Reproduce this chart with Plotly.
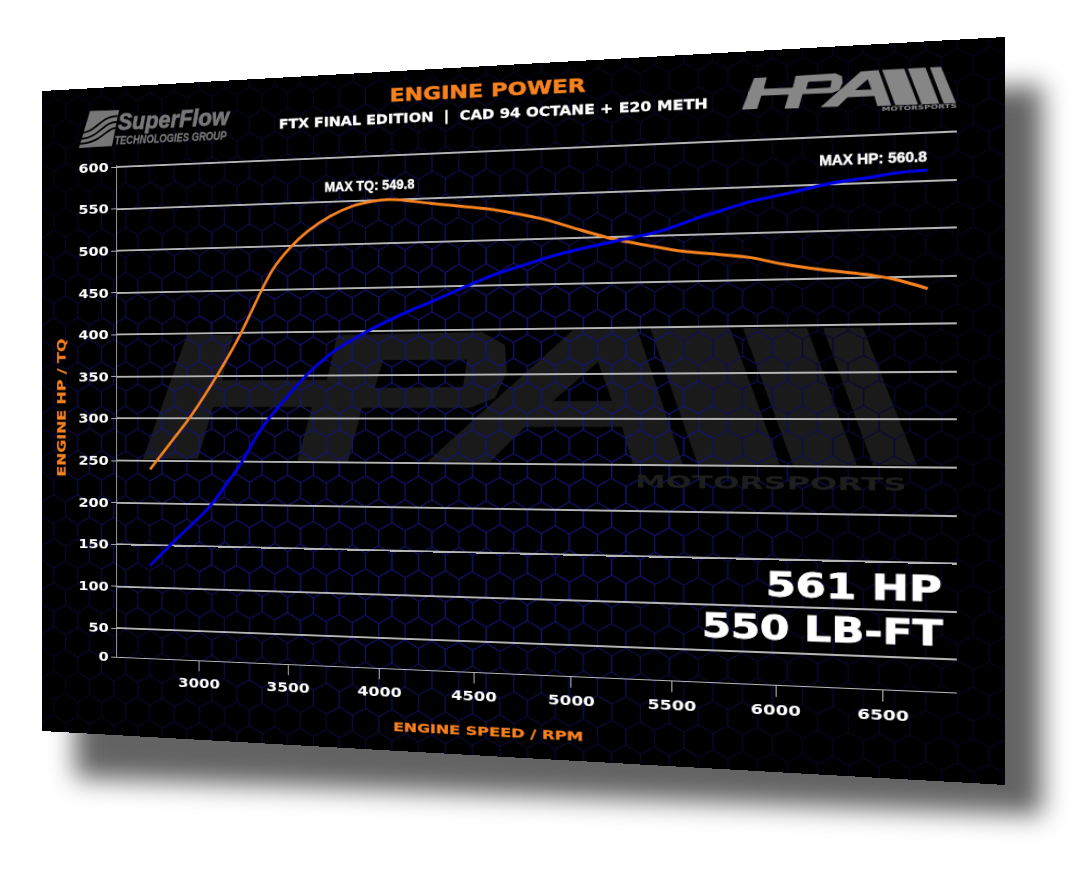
import json
import math
import numpy as np
import plotly.graph_objects as go

# ---------- data ----------
tq_rpm = [2718, 2834, 2949, 3103, 3233, 3357, 3418, 3512, 3606, 3733, 3858, 3965, 4050, 4110, 4270, 4444,
          4584, 4703, 4877, 5044, 5209, 5377, 5539, 5734, 5878, 6035, 6222, 6454, 6578, 6704]
tq_val = [240, 271, 302, 351, 398, 451, 474, 498, 516, 533, 544, 548.5, 549.8, 549, 544, 539,
          535, 530, 521, 509, 498, 490, 483, 478, 474, 466, 459, 452, 446, 437]
hp_rpm = [2718, 2880, 3052, 3244, 3329, 3401, 3606, 3749, 3933, 4057, 4174, 4270, 4480, 4584, 4703,
          4942, 5209, 5442, 5637, 5734, 5878, 6068, 6269, 6426, 6578, 6704]
hp_val = [126, 160, 195, 250, 281, 302, 351, 377, 400, 413, 424, 432, 451, 460, 468,
          483, 495, 505, 519, 525, 534, 542, 551, 555, 559.5, 560.8]
x_ticks = [3000, 3500, 4000, 4500, 5000, 5500, 6000, 6500]
y_ticks = [16, 50, 100, 150, 200, 250, 300, 350, 400, 450, 500, 550, 600]
y_labels = ["0", "50", "100", "150", "200", "250", "300", "350", "400", "450", "500", "550", "600"]

ORANGE = "#f5811f"
BLUE = "#0000e6"
WHITE = "#ffffff"

# ---------- flat sheet and its perspective ----------
W, H = 1000, 720
ML, MR, MT, MB = 90, 43, 87, 87
QUAD = [(42, 91), (1005, 37), (1005, 785), (42, 731)]
SRC = [(0, 0), (W, 0), (W, H), (0, H)]


def homography(src, dst):
    A, b = [], []
    for (u, v), (x, y) in zip(src, dst):
        A.append([u, v, 1, 0, 0, 0, -u * x, -v * x]); b.append(x)
        A.append([0, 0, 0, u, v, 1, -u * y, -v * y]); b.append(y)
    s = np.linalg.solve(np.array(A, float), np.array(b, float))
    return np.append(s, 1.0).reshape(3, 3)


HM = homography(SRC, QUAD)
HI = np.linalg.inv(HM)


def flat(x, y):
    p = HI @ np.array([x, y, 1.0])
    return p[0] / p[2], p[1] / p[2]


def paper_f(fx, fy):
    return (fx - ML) / (W - ML - MR), 1 - (fy - MT) / (H - MT - MB)


def paper(x, y):
    return paper_f(*flat(x, y))


def poly_path(points):
    s = ""
    for i, (x, y) in enumerate(points):
        px, py = paper(x, y)
        s += ("M" if i == 0 else "L") + f"{px:.5f},{py:.5f} "
    return s + "Z "


# ---------- logo outline, in reference pixels of the big watermark ----------
LOGO = [
    [(143, 459), (198, 459), (213, 407), (312, 407), (297, 462), (348, 462), (362, 408), (470, 408), (495, 398),
     (507, 372), (505, 345), (482, 332), (337, 335), (327, 380), (222, 380), (233, 335), (187, 335)],
    [(383, 360), (375, 388), (463, 387), (467, 360)],
    [(427, 462), (490, 462), (525, 427), (622, 427), (633, 465), (683, 465), (637, 328), (573, 330)],
    [(598, 362), (553, 401), (612, 401)],
    [(650, 328), (698, 465), (780, 465), (730, 328)],
    [(743, 328), (793, 465), (857, 465), (807, 328)],
    [(823, 328), (873, 465), (917, 465), (863, 328)],
]


def logo_path(x0, x1, yt0, yt1, yb0, yb1):
    s = ""
    for poly in LOGO:
        pts = []
        for x, y in poly:
            nx, ny = (x - 143) / 774, (y - 328) / 137
            yt = yt0 + nx * (yt1 - yt0)
            yb = yb0 + nx * (yb1 - yb0)
            pts.append((x0 + nx * (x1 - x0), yt + ny * (yb - yt)))
        s += poly_path(pts)
    return s


shapes = []
shapes.append(dict(type="path", xref="paper", yref="paper", layer="below",
                   path=logo_path(143, 917, 328, 328, 465, 465),
                   fillcolor="#1a1a1a", line=dict(width=0)))

# honeycomb backdrop, brighter in the middle of the sheet
R = 16.5
hex_w = R * math.sqrt(3)
groups = {0: "", 1: "", 2: "", 3: ""}
for row in range(-1, int(H / (1.5 * R)) + 2):
    for col in range(-1, int(W / hex_w) + 2):
        cx = col * hex_w + (hex_w / 2 if row % 2 else 0)
        cy = row * 1.5 * R
        d = math.hypot((cx - 430) / 520, (cy - 400) / 380)
        lvl = 0 if d < 0.6 else 1 if d < 0.8 else 2 if d < 1.0 else 3
        pts = [(cx + R * math.sin(k * math.pi / 3), cy - R * math.cos(k * math.pi / 3)) for k in range(6)]
        s = ""
        for i, (fx, fy) in enumerate(pts):
            px, py = paper_f(fx, fy)
            s += ("M" if i == 0 else "L") + f"{px:.5f},{py:.5f} "
        groups[lvl] += s + "Z "
for lvl, col in zip(groups, ["#14147a", "#0f0f55", "#0a0a36", "#070722"]):
    shapes.append(dict(type="path", xref="paper", yref="paper", layer="below", path=groups[lvl],
                       fillcolor="rgba(0,0,0,0)", line=dict(color=col, width=1)))

# logos in the upper corners
shapes.append(dict(type="path", xref="paper", yref="paper", layer="above",
                   path=logo_path(742, 956, 77, 66, 111, 103),
                   fillcolor="#868686", line=dict(width=0)))
shapes.append(dict(type="path", xref="paper", yref="paper", layer="above",
                   path=poly_path([(90, 111), (119, 110), (112, 146), (79, 148)]),
                   fillcolor="#777777", line=dict(width=0)))
for a, b, c, d in [((118, 116), (100, 116), (98, 131), (82, 133)),
                   ((117, 122), (103, 122), (100, 137), (81, 139)),
                   ((116, 128), (106, 128), (103, 142), (80, 144))]:
    pa, pb, pc, pd = paper(*a), paper(*b), paper(*c), paper(*d)
    shapes.append(dict(type="path", xref="paper", yref="paper", layer="above",
                       path=f"M{pa[0]:.5f},{pa[1]:.5f} C{pb[0]:.5f},{pb[1]:.5f} {pc[0]:.5f},{pc[1]:.5f} {pd[0]:.5f},{pd[1]:.5f}",
                       line=dict(color="#000000", width=2)))

# ---------- texts: left point, right point, cap height in reference pixels, extra stroke ----------
DJ = "DejaVu Sans"
LB = "Liberation Sans"
TEXTS = [
    ("ENGINE POWER", (390, 93), (586, 87), 13.5, ORANGE, DJ, "normal", 0.5),
    ("FTX FINAL EDITION  |  CAD 94 OCTANE + E20 METH", (279, 123), (708, 105), 10, WHITE, DJ, "normal", 0.3),
    ("MOTORSPORTS", (882, 108), (957, 106), 4.5, "#8a8a8a", DJ, "normal", 0),
    ("SuperFlow", (119, 120), (230, 118), 17, "#777777", LB, "italic", 0.9),
    ("TECHNOLOGIES GROUP", (115, 141), (227, 135), 8, "#777777", LB, "italic", 0.3),
    ("MOTORSPORTS ", (635, 484), (918, 482), 13, "#1e1e1e", DJ, "normal", 0),
    ("561 HP", (766, 585), (942, 589), 25, WHITE, DJ, "normal", 0.8),
    ("550 LB-FT", (702, 627), (943, 633), 25, WHITE, DJ, "normal", 0.8),
    ("ENGINE SPEED / RPM", (393, 727), (583, 736), 9, ORANGE, DJ, "normal", 0.3),
    ("MAX TQ: 549.8", (325, 186), (415, 184), 10.5, WHITE, LB, "normal", 0.4),
    ("MAX HP: 560.8", (820, 159), (928, 156), 11.5, WHITE, LB, "normal", 0.4),
]

annotations = []
stretch = {}
strokes = {}
for txt, a, b, cap, col, fam, sty, stk in TEXTS:
    fa, fb = flat(*a), flat(*b)
    fx, fy = (fa[0] + fb[0]) / 2, (fa[1] + fb[1]) / 2
    px, py = paper_f(fx, fy)
    scale = (640 + ((a[0] + b[0]) / 2 - 42) * 108 / 963) / H
    annotations.append(dict(text=txt, x=px, y=py, xref="paper", yref="paper", xanchor="center", yanchor="middle",
                            showarrow=False, font=dict(family=fam, size=cap / scale / 0.73, color=col, weight=700, style=sty)))
    stretch[txt] = fb[0] - fa[0]
    strokes[txt] = stk

fa, fb = flat(61, 476), flat(61, 338)
px, py = paper_f((fa[0] + fb[0]) / 2, (fa[1] + fb[1]) / 2)
annotations.append(dict(text="ENGINE HP / TQ", x=px, y=py, xref="paper", yref="paper", xanchor="center", yanchor="middle",
                        showarrow=False, textangle=-90, font=dict(family=DJ, size=14, color=ORANGE, weight=700)))
stretch["ENGINE HP / TQ"] = abs(fa[1] - fb[1])
strokes["ENGINE HP / TQ"] = 0.3

# ---------- figure ----------
fig = go.Figure()
fig.add_trace(go.Scatter(x=tq_rpm, y=tq_val, mode="lines", name="TQ", line=dict(color=ORANGE, width=3, shape="spline", smoothing=0.7)))
fig.add_trace(go.Scatter(x=hp_rpm, y=hp_val, mode="lines", name="HP", line=dict(color=BLUE, width=3.2, shape="spline", smoothing=0.7)))
tick_font = dict(family=DJ, size=14, color=WHITE, weight=700)
fig.update_layout(
    width=W, height=H, autosize=False, showlegend=False,
    margin=dict(l=ML, r=MR, t=MT, b=MB, pad=0),
    paper_bgcolor="#000000", plot_bgcolor="rgba(0,0,0,0)",
    shapes=shapes, annotations=annotations,
    xaxis=dict(range=[2525, 6835], tickvals=x_ticks, ticktext=[str(v) for v in x_ticks], showgrid=False, zeroline=False,
               showline=True, linecolor="#b8b8b8", linewidth=1.4, ticks="outside", ticklen=11, tickwidth=1,
               tickcolor="#bdbdbd", tickfont=tick_font, ticklabelstandoff=1),
    yaxis=dict(range=[16, 602.15], tickvals=y_ticks, ticktext=y_labels, showgrid=True, gridcolor="#b4b4b4", gridwidth=1.6,
               zeroline=False, showline=True, linecolor="#b8b8b8", linewidth=1.4, ticks="outside", ticklen=6, tickwidth=1,
               tickcolor="#bdbdbd", tickfont=tick_font),
)

g = HM / HM[2, 2]
matrix = [g[0, 0], g[1, 0], 0, g[2, 0], g[0, 1], g[1, 1], 0, g[2, 1], 0, 0, 1, 0, g[0, 2], g[1, 2], 0, 1]
matrix_css = ",".join(f"{v:.10f}" for v in matrix)
SHADOW = "polygon(75px 140px, 1042px 85px, 1042px 815px, 75px 778px)"

post = """
var gd = document.getElementById('{plot_id}');
var stretch = %s;
var strokes = %s;
document.querySelectorAll('g.annotation text, .annotation-text-g text').forEach(function(el){
  var k = el.textContent;
  if (stretch[k]) { el.setAttribute('textLength', stretch[k]); el.setAttribute('lengthAdjust', 'spacingAndGlyphs'); }
  if (strokes[k]) { el.style.stroke = el.style.fill; el.style.strokeWidth = strokes[k] + 'px'; }
});
document.querySelectorAll('.xtick text, .ytick text').forEach(function(el){
  el.setAttribute('textLength', el.getComputedTextLength() * 1.23);
  el.setAttribute('lengthAdjust', 'spacingAndGlyphs');
});
document.documentElement.style.overflow = 'hidden';
document.documentElement.style.background = '#ffffff';
document.body.style.margin = '0';
document.body.style.overflow = 'hidden';
document.body.style.background = '#ffffff';
var outer = document.createElement('div');
outer.style.cssText = 'position:absolute;left:0;top:0;width:1080px;height:881px;filter:blur(13px);';
var inner = document.createElement('div');
inner.style.cssText = 'width:1080px;height:881px;background:#636363;clip-path:%s;';
outer.appendChild(inner);
document.body.insertBefore(outer, document.body.firstChild);
gd.style.position = 'absolute';
gd.style.left = '0';
gd.style.top = '0';
gd.style.zIndex = '2';
gd.style.transformOrigin = '0 0';
gd.style.transform = 'matrix3d(%s)';
""" % (json.dumps(stretch), json.dumps(strokes), SHADOW, matrix_css)

fig.write_html("out.html", post_script=post, config=dict(displayModeBar=False, responsive=False))
